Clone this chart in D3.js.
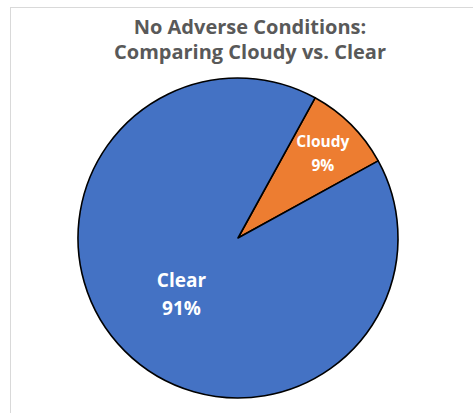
<!DOCTYPE html>
<html>
<head>
<meta charset="utf-8">
<script src="https://cdn.jsdelivr.net/npm/d3@7"></script>
<style>
  body { margin: 0; background: #fff; }
  svg { display: block; }
  text { font-family: "Open Sans", sans-serif; font-weight: bold; }
</style>
</head>
<body>
<svg width="473" height="413"></svg>
<script>
// chart data
const categories = ["Cloudy", "Clear"];
const values = [9, 91];
const percentLabels = ["9%", "91%"];
const titleLines = ["No Adverse Conditions:", "Comparing Cloudy vs. Clear"];
const colors = ["#ED7D31", "#4472C4"];

const svg = d3.select('svg');
const cx = 238, cy = 238, radius = 160;

// chart area frame (only left and top edge are inside the picture)
svg.append('rect')
    .attr('x', 10.5).attr('y', 7.5)
    .attr('width', 600).attr('height', 600)
    .attr('fill', 'none')
    .attr('stroke', '#d9d9d9')
    .attr('stroke-width', 1);

// title
svg.selectAll('.title').data(titleLines).enter()
    .append('text')
    .attr('class', 'title')
    .attr('x', 250)
    .attr('y', (d, i) => 34 + i * 25)
    .attr('text-anchor', 'middle')
    .attr('fill', '#595959')
    .style('font-size', '20px')
    .text(d => d);

const table = categories.map((c, i) => ({name: c, value: values[i], label: percentLabels[i], color: colors[i]}));

const startAngle = 28.8 * Math.PI / 180;
const pie = d3.pie().sort(null).value(d => d.value)
    .startAngle(startAngle).endAngle(startAngle + 2 * Math.PI);
const arc = d3.arc().innerRadius(0).outerRadius(radius);

const g = svg.append('g').attr('transform', 'translate(' + cx + ',' + cy + ')');

const arcs = pie(table);

g.selectAll('path').data(arcs).enter()
    .append('path')
    .attr('d', arc)
    .attr('fill', d => d.data.color)
    .attr('stroke', '#000')
    .attr('stroke-width', 1.6)
    .attr('stroke-linejoin', 'round');

// labels
const labelPos = [
    {r: 0.75, size: 15.5, gap: 24},
    {r: 0.50, size: 19, gap: 28}
];
arcs.forEach(function(d, i){
    const a = (d.startAngle + d.endAngle) / 2;
    const p = labelPos[i];
    const lx = Math.sin(a) * radius * p.r;
    const ly = -Math.cos(a) * radius * p.r;
    const t = g.append('text')
        .attr('text-anchor', 'middle')
        .attr('fill', '#fff')
        .style('font-size', p.size + 'px');
    t.append('tspan').attr('x', lx).attr('y', ly - p.gap / 2 + p.size * 0.36).text(d.data.name);
    t.append('tspan').attr('x', lx).attr('y', ly + p.gap / 2 + p.size * 0.36).text(d.data.label);
});
</script>
</body>
</html>
